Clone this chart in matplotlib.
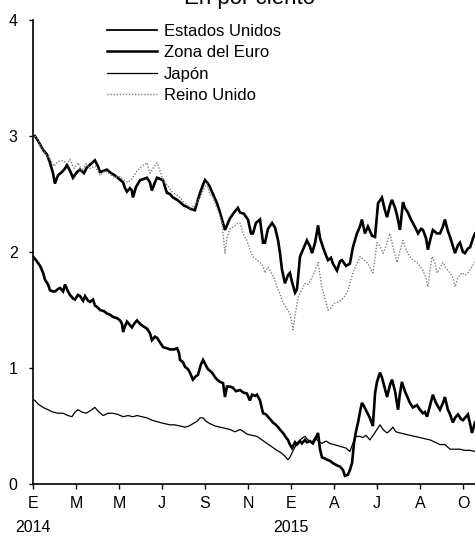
import matplotlib
matplotlib.use("Agg")
import matplotlib.pyplot as plt
import matplotlib.transforms as mtransforms

plt.rcParams['font.family'] = ['Liberation Sans', 'DejaVu Sans']

# time in months since January 2014
us_t = [0.09,0.23,0.47,0.65,0.79,0.93,1.02,1.16,1.35,1.49,1.58,1.72,1.86,2.05,2.19,2.37,2.51,2.70,2.88,3.02,
        3.12,3.30,3.44,3.63,3.81,4.00,4.19,4.28,4.37,4.51,4.60,4.65,4.79,4.98,5.16,5.30,5.44,5.53,5.67,5.77,
        5.91,6.05,6.14,6.23,6.37,6.51,6.70,6.84,7.02,7.16,7.35,7.53,7.67,7.77,7.91,8.00,8.14,8.23,8.42,8.56,
        8.70,8.79,8.93,9.07,9.16,9.35,9.53,9.63,9.81,10.00,10.14,10.23,10.37,10.56,10.70,10.79,10.93,11.12,11.26,11.40,
        11.49,11.58,11.72,11.86,11.95,12.05,12.19,12.28,12.42,12.60,12.74,12.88,12.98,13.12,13.26,13.35,13.49,13.63,13.72,13.86,
        13.95,14.14,14.28,14.37,14.56,14.74,14.88,15.07,15.21,15.30,15.44,15.58,15.77,15.91,16.05,16.23,16.37,16.47,16.60,16.70,
        16.84,16.93,17.07,17.21,17.30,17.44,17.58,17.67,17.81,17.91,18.05,18.14,18.28,18.37,18.47,18.60,18.79,18.93,19.07,19.16,
        19.30,19.40,19.53,19.63,19.77,19.86,20.00,20.09,20.23,20.33,20.47,20.56]
us_v = [3.00,2.96,2.88,2.84,2.77,2.68,2.59,2.66,2.69,2.72,2.75,2.70,2.64,2.69,2.71,2.68,2.73,2.76,2.79,2.74,
        2.69,2.70,2.71,2.68,2.66,2.63,2.60,2.55,2.52,2.55,2.53,2.47,2.56,2.62,2.63,2.64,2.60,2.53,2.60,2.64,
        2.63,2.62,2.56,2.51,2.50,2.47,2.45,2.43,2.40,2.39,2.37,2.36,2.45,2.51,2.58,2.62,2.59,2.56,2.48,2.42,
        2.34,2.28,2.19,2.25,2.29,2.34,2.38,2.34,2.33,2.28,2.16,2.16,2.25,2.28,2.08,2.08,2.20,2.25,2.21,2.10,
        1.99,1.85,1.73,1.80,1.82,1.74,1.65,1.68,1.96,2.04,2.10,2.05,1.99,2.08,2.23,2.12,2.04,1.97,1.93,1.95,
        1.90,1.84,1.92,1.93,1.88,1.90,2.04,2.16,2.22,2.28,2.16,2.22,2.14,2.13,2.42,2.47,2.36,2.30,2.40,2.45,
        2.38,2.32,2.19,2.43,2.38,2.34,2.28,2.25,2.20,2.16,2.20,2.19,2.12,2.02,2.10,2.19,2.16,2.16,2.22,2.28,
        2.18,2.13,2.05,1.99,2.06,2.08,2.00,1.99,2.03,2.04,2.12,2.16]

uk_t = [0.09,0.23,0.37,0.47,0.60,0.79,0.98,1.16,1.40,1.58,1.72,1.91,2.09,2.28,2.47,2.65,2.88,3.12,3.35,3.58,
        3.81,4.05,4.23,4.42,4.60,4.84,5.07,5.30,5.44,5.58,5.77,5.91,6.05,6.23,6.42,6.60,6.84,7.07,7.30,7.53,
        7.77,7.95,8.09,8.23,8.37,8.51,8.65,8.79,8.93,9.02,9.16,9.35,9.53,9.63,9.81,9.95,10.09,10.23,10.42,10.56,
        10.70,10.79,10.93,11.02,11.21,11.35,11.49,11.63,11.77,11.95,12.05,12.09,12.19,12.33,12.47,12.65,12.79,12.98,13.12,13.26,
        13.35,13.44,13.58,13.72,13.86,14.05,14.19,14.37,14.51,14.65,14.74,14.88,15.02,15.21,15.40,15.53,15.67,15.81,15.91,16.00,
        16.14,16.28,16.42,16.60,16.74,16.84,16.93,17.07,17.21,17.35,17.53,17.67,17.86,18.00,18.14,18.28,18.37,18.47,18.56,18.70,
        18.79,18.93,19.07,19.21,19.40,19.53,19.63,19.77,19.95,20.09,20.23,20.37,20.56]
uk_v = [3.00,2.97,2.90,2.88,2.84,2.80,2.74,2.78,2.79,2.76,2.80,2.72,2.77,2.70,2.76,2.72,2.74,2.66,2.70,2.67,
        2.64,2.65,2.62,2.60,2.63,2.70,2.74,2.77,2.68,2.72,2.77,2.70,2.62,2.58,2.53,2.50,2.47,2.42,2.38,2.40,
        2.47,2.55,2.59,2.50,2.47,2.40,2.34,2.25,1.99,2.12,2.20,2.22,2.25,2.25,2.14,2.10,2.02,1.96,1.93,1.91,
        1.88,1.82,1.87,1.84,1.78,1.70,1.64,1.56,1.52,1.47,1.38,1.33,1.45,1.61,1.66,1.73,1.72,1.78,1.84,1.91,
        1.80,1.70,1.60,1.50,1.52,1.56,1.57,1.59,1.62,1.67,1.73,1.82,1.88,1.96,1.93,1.91,1.87,1.82,1.95,2.08,
        2.05,1.99,2.05,2.16,2.05,1.97,1.91,2.01,2.10,2.02,1.96,1.93,1.91,1.88,1.84,1.78,1.70,1.85,1.96,1.90,
        1.82,1.86,1.91,1.86,1.82,1.78,1.70,1.78,1.82,1.80,1.82,1.86,1.91]

eu_t = [0.00,0.14,0.33,0.47,0.56,0.70,0.79,0.93,1.02,1.16,1.26,1.40,1.49,1.63,1.72,1.86,1.95,2.09,2.19,2.33,
        2.42,2.56,2.65,2.79,2.88,3.02,3.12,3.30,3.44,3.58,3.72,3.91,4.05,4.14,4.19,4.28,4.37,4.51,4.60,4.74,
        4.84,4.98,5.12,5.30,5.44,5.53,5.67,5.77,5.91,6.05,6.23,6.37,6.56,6.70,6.79,6.84,6.98,7.07,7.21,7.30,
        7.44,7.58,7.67,7.81,7.91,8.05,8.14,8.33,8.47,8.56,8.70,8.84,8.93,9.02,9.16,9.30,9.44,9.63,9.77,9.95,
        10.09,10.19,10.33,10.42,10.56,10.70,10.84,10.93,11.07,11.16,11.30,11.40,11.53,11.63,11.77,11.86,11.95,12.05,12.19,12.28,
        12.42,12.51,12.65,12.74,12.88,13.02,13.16,13.26,13.35,13.44,13.58,13.67,13.81,13.95,14.14,14.28,14.42,14.51,14.65,14.74,
        14.84,14.93,15.02,15.12,15.21,15.30,15.40,15.53,15.67,15.81,15.91,16.00,16.14,16.23,16.37,16.47,16.60,16.70,16.84,16.98,
        17.07,17.16,17.30,17.44,17.53,17.67,17.86,18.00,18.14,18.23,18.33,18.47,18.60,18.74,18.93,19.07,19.16,19.30,19.40,19.53,
        19.63,19.77,19.91,20.00,20.14,20.23,20.33,20.42,20.56]
eu_v = [1.96,1.93,1.88,1.82,1.76,1.72,1.67,1.66,1.66,1.68,1.69,1.66,1.72,1.66,1.63,1.60,1.59,1.63,1.62,1.58,
        1.62,1.58,1.57,1.59,1.54,1.52,1.50,1.49,1.47,1.46,1.44,1.43,1.41,1.38,1.31,1.36,1.40,1.37,1.35,1.39,
        1.41,1.38,1.36,1.34,1.30,1.24,1.27,1.26,1.22,1.18,1.17,1.16,1.16,1.17,1.13,1.07,1.05,1.01,0.99,0.96,
        0.90,0.93,0.94,1.03,1.07,1.02,0.99,0.96,0.92,0.90,0.88,0.87,0.75,0.84,0.84,0.83,0.80,0.81,0.79,0.78,
        0.72,0.77,0.76,0.77,0.72,0.61,0.60,0.58,0.55,0.53,0.51,0.49,0.46,0.44,0.40,0.38,0.34,0.31,0.36,0.34,
        0.37,0.35,0.38,0.36,0.37,0.35,0.40,0.44,0.30,0.23,0.22,0.21,0.20,0.18,0.16,0.15,0.12,0.07,0.08,0.12,
        0.18,0.35,0.45,0.53,0.62,0.70,0.67,0.62,0.57,0.50,0.78,0.88,0.96,0.92,0.82,0.75,0.85,0.90,0.80,0.64,
        0.78,0.88,0.80,0.74,0.70,0.66,0.68,0.64,0.61,0.62,0.58,0.68,0.77,0.70,0.64,0.70,0.75,0.64,0.60,0.53,
        0.57,0.60,0.56,0.55,0.58,0.60,0.52,0.44,0.53]

jp_t = [0.00,0.09,0.23,0.47,0.70,0.93,1.16,1.40,1.63,1.81,1.95,2.09,2.28,2.47,2.65,2.88,3.07,3.26,3.49,3.72,
        3.95,4.19,4.42,4.65,4.84,5.07,5.30,5.53,5.72,5.91,6.14,6.37,6.60,6.84,7.07,7.26,7.44,7.63,7.77,7.91,
        8.05,8.23,8.47,8.70,8.93,9.16,9.40,9.63,9.81,9.95,10.19,10.42,10.65,10.88,11.12,11.35,11.53,11.72,11.86,11.95,
        12.05,12.19,12.28,12.42,12.56,12.65,12.79,12.98,13.12,13.26,13.35,13.44,13.63,13.81,14.00,14.19,14.37,14.56,14.74,14.88,
        15.02,15.21,15.35,15.49,15.67,15.86,16.00,16.14,16.28,16.47,16.60,16.74,16.88,17.07,17.30,17.53,17.77,18.00,18.23,18.47,
        18.70,18.93,19.16,19.40,19.63,19.86,20.09,20.33,20.56]
jp_v = [0.73,0.72,0.69,0.66,0.64,0.62,0.61,0.61,0.59,0.58,0.62,0.64,0.62,0.61,0.63,0.66,0.62,0.59,0.61,0.61,
        0.60,0.58,0.59,0.58,0.59,0.58,0.57,0.55,0.54,0.53,0.52,0.51,0.51,0.50,0.49,0.50,0.52,0.54,0.57,0.57,
        0.54,0.52,0.50,0.49,0.48,0.47,0.45,0.47,0.45,0.43,0.42,0.41,0.38,0.35,0.32,0.29,0.27,0.24,0.21,0.23,
        0.27,0.32,0.35,0.38,0.40,0.41,0.38,0.36,0.40,0.37,0.36,0.35,0.37,0.35,0.34,0.33,0.32,0.31,0.28,0.35,
        0.41,0.41,0.40,0.42,0.38,0.43,0.47,0.51,0.47,0.44,0.46,0.49,0.45,0.44,0.43,0.42,0.41,0.40,0.39,0.38,
        0.36,0.34,0.34,0.30,0.30,0.30,0.29,0.29,0.28]

tick_months = [0, 2, 4, 6, 8, 10, 12, 14, 16, 18, 20]
tick_labels = ["E", "M", "M", "J", "S", "N", "E", "A", "J", "A", "O"]
years = [(0, "2014"), (12, "2015")]
title = "En por ciento"

fig = plt.figure(figsize=(4.75, 5.38), dpi=100)
ax = fig.add_axes([33/475, 54/538, 442/475, 464/538])

ax.plot(us_t, us_v, color="black", lw=1.9, label="Estados Unidos", solid_joinstyle="miter")
ax.plot(eu_t, eu_v, color="black", lw=1.9, label="Zona del Euro", solid_joinstyle="miter")
ax.plot(jp_t, jp_v, color="black", lw=0.9, label="Japón")
ax.plot(uk_t, uk_v, color="#808080", lw=1.0, ls=(0, (1, 1.2)), label="Reino Unido")

ax.set_xlim(0, 20.56)
ax.set_ylim(0, 4)
ax.set_yticks([0, 1, 2, 3, 4])
ax.set_xticks(tick_months)
ax.set_xticklabels(tick_labels)
for s in ["top", "right"]:
    ax.spines[s].set_visible(False)
for s in ["left", "bottom"]:
    ax.spines[s].set_linewidth(1.2)
ax.tick_params(axis="y", direction="out", length=3, width=1.0, pad=8, labelsize=11.5)
ax.tick_params(axis="x", direction="out", length=3.5, width=1.0, pad=5, labelsize=11.5)

trans = mtransforms.blended_transform_factory(ax.transData, fig.transFigure)
for m, y in years:
    ax.text(m, 1 - 528/538, y, transform=trans, ha="center", va="center", fontsize=11.5)

fig.text(250/475, 1 - 4/538, title, ha="center", va="baseline", fontsize=16)

leg_handles, leg_labels = ax.get_legend_handles_labels()
leg = ax.legend(leg_handles, leg_labels, loc="upper left", bbox_to_anchor=(107/475, 1 - 24/538),
                bbox_transform=fig.transFigure, frameon=False, fontsize=12, handlelength=3.0,
                handletextpad=0.4, labelspacing=0.38, borderpad=0, borderaxespad=0)
legend_lw = [1.3, 1.8, 0.9, 1.0]
for line, lw in zip(leg.get_lines(), legend_lw):
    line.set_linewidth(lw)

fig.savefig("out.png", dpi=100)
